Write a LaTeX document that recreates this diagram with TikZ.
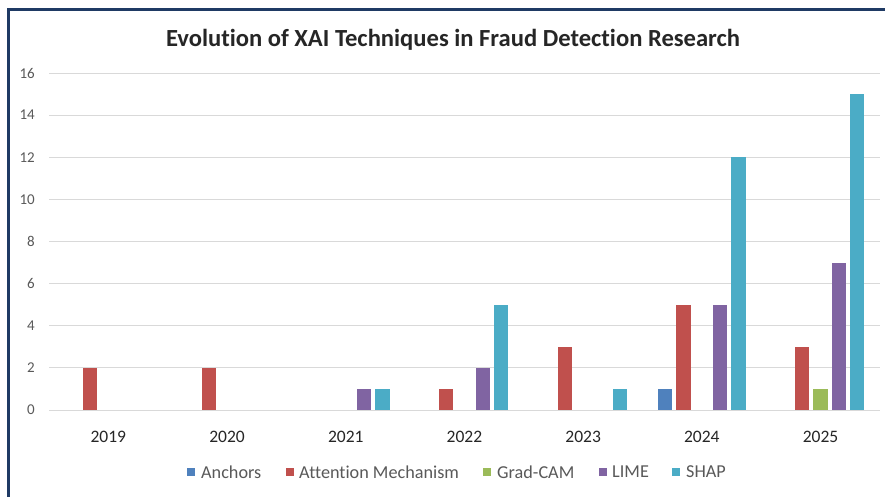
\documentclass[tikz,border=0pt]{standalone}
\usepackage{fontspec}
\setmainfont{Carlito}[Ligatures=CommonOff]
\definecolor{frame}{HTML}{1F3A64}
\definecolor{grid}{HTML}{D9D9D9}
\definecolor{ticktext}{HTML}{595959}
\definecolor{ser0}{HTML}{4F81BD}
\definecolor{ser1}{HTML}{C0504D}
\definecolor{ser2}{HTML}{9BBB59}
\definecolor{ser3}{HTML}{8064A2}
\definecolor{ser4}{HTML}{4BACC6}
\tikzset{
  gridline/.style={draw=grid, line width=1pt},
  ticklabel/.style={anchor=east, text=ticktext, font=\fontsize{15}{15}\selectfont, inner sep=0pt},
  catlabel/.style={text=black!85, font=\fontsize{17.5}{17.5}\selectfont, inner sep=0pt},
  legendtext/.style={anchor=west, text=ticktext, font=\fontsize{18.2}{18.2}\selectfont, inner sep=0pt},
  legendkey/.style={minimum size=8pt, inner sep=0pt},
}
\begin{document}
\begin{tikzpicture}[x=1pt,y=-1pt]
\useasboundingbox (0,0) rectangle (885,497);
\fill[white] (0,0) rectangle (885,497);
% chart frame
\draw[frame, line width=3pt] (8.5,497) -- (8.5,9.5) -- (885,9.5);
% title
\node[font=\fontsize{24.6}{24.6}\selectfont\bfseries, text=black!85] (title) at (453,40) {Evolution of XAI Techniques in Fraud Detection Research};
% value axis: gridlines and tick labels
\foreach \v in {0,2,...,16} {
  \draw[gridline] (49,{410-21.06*\v}) -- (880,{410-21.06*\v});
  \node[ticklabel] (tick\v) at (35,{410-21.06*\v}) {\v};
}
% category labels
\foreach \yr [count=\i from 0] in {2019,2020,2021,2022,2023,2024,2025} {
  \node[catlabel] (cat\yr) at ({49+118.7*(\i+0.5)},437) {\yr};
}
% bars: group / series / value
\foreach \g/\s/\v in {0/1/2, 1/1/2, 2/3/1, 2/4/1, 3/1/1, 3/3/2, 3/4/5, 4/1/3, 4/4/1,
                      5/0/1, 5/1/5, 5/3/5, 5/4/12, 6/1/3, 6/2/1, 6/3/7, 6/4/15} {
  \pgfmathsetmacro\xc{49+118.7*(\g+0.5)+18.3*(\s-2)}
  \fill[ser\s] ({\xc-7.2},410) rectangle ({\xc+7.2},{410-21.06*\v});
}
% legend
\node[legendkey, fill=ser0] (k0) at (190.5,472) {};
\node[legendtext] (l0) at (201,472) {Anchors};
\node[legendkey, fill=ser1] (k1) at (289.5,472) {};
\node[legendtext] (l1) at (299,472) {Attention Mechanism};
\node[legendkey, fill=ser2] (k2) at (486.5,472) {};
\node[legendtext] (l2) at (497,472) {Grad-CAM};
\node[legendkey, fill=ser3] (k3) at (602.5,472) {};
\node[legendtext] (l3) at (612,472) {LIME};
\node[legendkey, fill=ser4] (k4) at (676,472) {};
\node[legendtext] (l4) at (686,472) {SHAP};
\end{tikzpicture}
\end{document}
